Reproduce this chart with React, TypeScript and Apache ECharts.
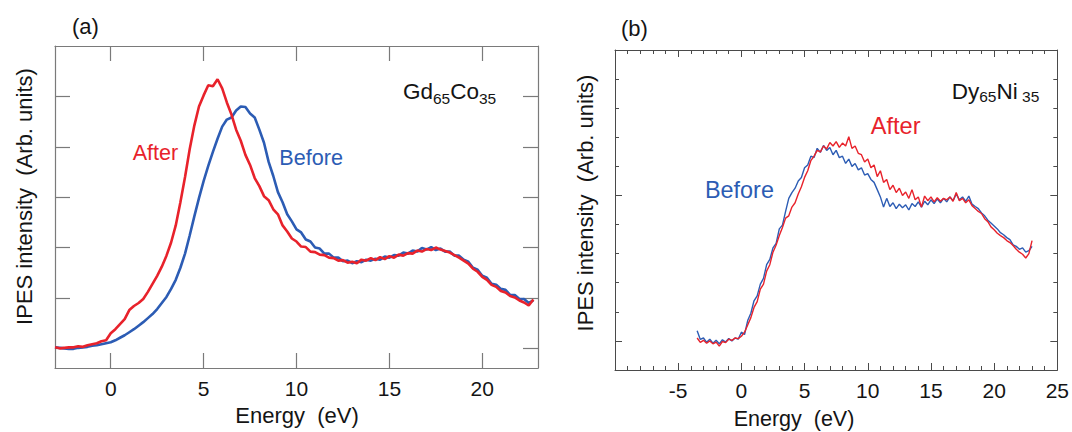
import React, { useEffect, useRef } from "react";
import * as echarts from "echarts";

// ---------- data ----------
const energyStep = 0.25;

// Panel (a) Gd65Co35, energies from -3 eV in 0.25 eV steps
const energyStartA = -3;
const afterA = [
  0.02, 0.0, 0.01, 0.02, 0.02, 0.04, 0.03, 0.06, 0.08, 0.1, 0.14, 0.16,
  0.3, 0.38, 0.48, 0.58, 0.76, 0.84, 0.9, 0.98, 1.12, 1.28, 1.44, 1.62,
  1.84, 2.1, 2.44, 2.9, 3.4, 3.95, 4.42, 4.8, 5.02, 5.22, 5.2, 5.34,
  5.16, 4.88, 4.64, 4.34, 4.12, 3.84, 3.64, 3.38, 3.22, 3.02, 2.94, 2.76,
  2.66, 2.44, 2.32, 2.18, 2.12, 2.02, 2.01, 1.92, 1.91, 1.86, 1.85, 1.8,
  1.79, 1.74, 1.75, 1.7, 1.72, 1.69, 1.76, 1.74, 1.79, 1.75, 1.81, 1.77,
  1.83, 1.8, 1.86, 1.84, 1.89, 1.88, 1.94, 1.92, 1.97, 1.95, 2.0, 1.96,
  1.93, 1.9, 1.85, 1.8, 1.74, 1.68, 1.58, 1.52, 1.42, 1.36, 1.26, 1.22,
  1.14, 1.11, 1.04, 1.01, 0.95, 0.91, 0.85, 0.97,
];
const beforeA = [
  0.02, 0.01, 0.0, -0.01, -0.01, 0.01, 0.02, 0.03, 0.05, 0.06, 0.08, 0.1,
  0.12, 0.16, 0.21, 0.26, 0.32, 0.38, 0.45, 0.52, 0.6, 0.68, 0.78, 0.9,
  1.02, 1.18, 1.36, 1.6, 1.88, 2.24, 2.62, 2.98, 3.32, 3.62, 3.9, 4.16,
  4.4, 4.54, 4.58, 4.72, 4.8, 4.79, 4.66, 4.58, 4.34, 4.08, 3.7, 3.42,
  3.1, 2.9, 2.66, 2.52, 2.36, 2.3, 2.16, 2.12, 2.0, 1.98, 1.88, 1.88,
  1.8, 1.8, 1.73, 1.74, 1.69, 1.73, 1.71, 1.76, 1.74, 1.78, 1.76, 1.82,
  1.8, 1.85, 1.84, 1.9, 1.88, 1.94, 1.92, 1.99, 1.96, 2.01, 1.95, 1.98,
  1.92, 1.92, 1.84, 1.84, 1.76, 1.72, 1.6, 1.56, 1.44, 1.4, 1.28, 1.26,
  1.18, 1.16, 1.06, 1.06, 0.98, 0.98, 0.9, 0.95,
];

// Panel (b) Dy65Ni35, energies from -3.5 eV in 0.25 eV steps
const energyStartB = -3.5;
const beforeB = [
  0.35, 0.05, 0.1, -0.05, 0.06, -0.08, 0.02, -0.1, 0.04, -0.04, 0.08, 0.0, 0.1, 0.06,
  0.3, 0.22, 0.7, 0.95, 1.38, 1.55, 1.95, 2.15, 2.62, 2.8, 3.2, 3.35, 3.85, 3.98, 4.45, 4.9,
  5.1, 5.25, 5.5, 5.62, 5.95, 6.05, 6.35, 6.3, 6.62, 6.48, 6.72, 6.55, 6.65, 6.4, 6.55, 6.3,
  6.35, 6.1, 6.25, 6.0, 6.1, 5.88, 5.95, 5.7, 5.75, 5.55, 5.45, 5.2, 4.95, 4.6, 4.9, 4.62,
  4.75, 4.55, 4.7, 4.58, 4.68, 4.5, 4.72, 4.62, 4.78, 4.6, 4.8, 4.68, 4.85, 4.72, 4.88, 4.75,
  4.9, 4.78, 4.95, 4.82, 5.05, 4.85, 4.95, 4.8, 4.98, 4.7, 4.62, 4.55, 4.4, 4.3, 4.15, 4.05,
  3.95, 3.85, 3.72, 3.65, 3.55, 3.48, 3.3, 3.25, 3.15, 3.2, 3.05, 3.1, 3.25,
];
const afterB = [
  0.1, -0.05, 0.02, -0.08, 0.0, -0.1, -0.04, -0.18, -0.02, -0.06, 0.06, 0.02, 0.1, 0.08,
  0.16, 0.3, 0.55, 0.8, 1.15, 1.35, 1.78, 1.95, 2.4, 2.62, 3.05, 3.3, 3.62, 3.9, 4.22, 4.3,
  4.6, 4.75, 5.05, 5.3, 5.62, 5.85, 6.2, 6.35, 6.55, 6.5, 6.7, 6.6, 6.82, 6.7, 6.85, 6.65,
  6.8, 6.7, 7.02, 6.62, 6.7, 6.45, 6.4, 6.15, 6.25, 5.95, 6.05, 5.65, 5.85, 5.45, 5.55, 5.2,
  5.35, 5.1, 5.25, 5.0, 5.12, 4.9, 5.2, 4.85, 4.95, 4.6, 4.98, 4.82, 4.95, 4.78, 4.92, 4.8,
  4.9, 4.85, 4.95, 4.8, 5.1, 4.82, 4.9, 4.75, 4.85, 4.65, 4.55, 4.45, 4.38, 4.2, 4.1, 3.92,
  3.82, 3.7, 3.62, 3.55, 3.45, 3.38, 3.28, 3.15, 3.05, 2.98, 2.85, 3.0, 3.45,
];

const tickValuesAX = [0, 5, 10, 15, 20];
const tickValuesAY = [0, 1, 2, 3, 4, 5];
const majorTickValuesBY = [0, 5];

// ---------- styling ----------
const FONT = "'Liberation Sans', Arial, Helvetica, sans-serif";
const RED = "#e8222b";
const BLUE = "#2c5cb4";
const TEXT = "#141414";
const FRAME_A = "#7a7a7a";
const FRAME_B = "#4a4a4a";

const toPairs = (start: number, ys: number[]) =>
  ys.map((v, i) => [start + i * energyStep, v]);

function buildOption(): any {
  const lineA = { color: FRAME_A, width: 1.2 };
  const lineB = { color: FRAME_B, width: 1 };
  const noSplit = { show: false };
  const labelFont = { fontSize: 21, color: TEXT, fontFamily: FONT };

  const xAxisA = (pos: "bottom" | "top") => ({
    gridIndex: 0,
    type: "value",
    position: pos,
    min: -3,
    max: 23,
    axisLine: { show: true, onZero: false, lineStyle: lineA },
    axisTick: { show: true, inside: true, length: 15, customValues: tickValuesAX, lineStyle: lineA },
    axisLabel:
      pos === "bottom"
        ? { show: true, customValues: tickValuesAX, margin: 10, ...labelFont }
        : { show: false },
    splitLine: noSplit,
  });
  const yAxisA = (pos: "left" | "right") => ({
    gridIndex: 0,
    type: "value",
    position: pos,
    min: -0.39,
    max: 6,
    axisLine: { show: true, onZero: false, lineStyle: lineA },
    axisTick: { show: true, inside: true, length: 15, customValues: tickValuesAY, lineStyle: lineA },
    axisLabel: { show: false },
    splitLine: noSplit,
  });
  const xAxisB = (pos: "bottom" | "top") => ({
    gridIndex: 1,
    type: "value",
    position: pos,
    min: -10,
    max: 25,
    interval: 5,
    axisLine: { show: true, onZero: false, lineStyle: lineB },
    axisTick: { show: true, inside: true, length: 7, lineStyle: lineB },
    minorTick: { show: true, splitNumber: 5, length: 4, lineStyle: lineB },
    axisLabel:
      pos === "bottom"
        ? {
            show: true,
            margin: 10,
            ...labelFont,
            formatter: (v: number) => (v === -10 ? "" : String(v)),
          }
        : { show: false },
    splitLine: noSplit,
    minorSplitLine: noSplit,
  });
  const yAxisBMinor = (pos: "left" | "right") => ({
    gridIndex: 1,
    type: "value",
    position: pos,
    min: -1,
    max: 10,
    interval: 1,
    axisLine: { show: true, onZero: false, lineStyle: lineB },
    axisTick: { show: true, inside: true, length: 4, lineStyle: lineB },
    axisLabel: { show: false },
    splitLine: noSplit,
  });
  const yAxisBMajor = (pos: "left" | "right") => ({
    gridIndex: 1,
    type: "value",
    position: pos,
    min: -1,
    max: 10,
    axisLine: { show: false, onZero: false },
    axisTick: { show: true, inside: true, length: 7, customValues: majorTickValuesBY, lineStyle: lineB },
    axisLabel: { show: false },
    splitLine: noSplit,
  });

  const txt = (text: string, x: number, y: number, size: number, fill: string, extra: any = {}) => ({
    type: "text",
    x,
    y,
    ...extra,
    style: {
      text,
      fill,
      fontSize: size,
      fontFamily: FONT,
      align: extra.align || "left",
      verticalAlign: "middle",
    },
  });

  return {
    animation: false,
    backgroundColor: "#ffffff",
    textStyle: { fontFamily: FONT },
    grid: [
      { left: 55, top: 46, width: 483, height: 322, containLabel: false },
      { left: 615, top: 50, width: 444, height: 320, containLabel: false },
    ],
    xAxis: [xAxisA("bottom"), xAxisA("top"), xAxisB("bottom"), xAxisB("top")],
    yAxis: [
      yAxisA("left"),
      yAxisA("right"),
      yAxisBMinor("left"),
      yAxisBMinor("right"),
      yAxisBMajor("left"),
      yAxisBMajor("right"),
    ],
    series: [
      {
        name: "Before",
        type: "line",
        xAxisIndex: 0,
        yAxisIndex: 0,
        data: toPairs(energyStartA, beforeA),
        showSymbol: false,
        lineStyle: { color: BLUE, width: 2.6 },
        itemStyle: { color: BLUE },
      },
      {
        name: "After",
        type: "line",
        xAxisIndex: 0,
        yAxisIndex: 0,
        data: toPairs(energyStartA, afterA),
        showSymbol: false,
        lineStyle: { color: RED, width: 2.6 },
        itemStyle: { color: RED },
      },
      {
        name: "Before",
        type: "line",
        xAxisIndex: 2,
        yAxisIndex: 2,
        data: toPairs(energyStartB, beforeB),
        showSymbol: false,
        lineStyle: { color: BLUE, width: 1.4 },
        itemStyle: { color: BLUE },
      },
      {
        name: "After",
        type: "line",
        xAxisIndex: 2,
        yAxisIndex: 2,
        data: toPairs(energyStartB, afterB),
        showSymbol: false,
        lineStyle: { color: RED, width: 1.4 },
        itemStyle: { color: RED },
      },
    ],
    graphic: [
      // panel labels
      txt("(a)", 72, 26, 22, TEXT),
      txt("(b)", 621, 28, 22, TEXT),
      // axis names
      txt("Energy  (eV)", 297, 415, 22, TEXT, { align: "center" }),
      txt("Energy  (eV)", 794, 419, 21.5, TEXT, { align: "center" }),
      txt("IPES intensity  (Arb. units)", 24, 196.5, 22, TEXT, { align: "center", rotation: Math.PI / 2 }),
      txt("IPES intensity  (Arb. units)", 585, 203, 22, TEXT, { align: "center", rotation: Math.PI / 2 }),
      // compound names
      txt("Gd", 403, 91.7, 22.5, TEXT),
      txt("65", 433, 98.6, 15.5, TEXT),
      txt("Co", 450.2, 91.7, 22.5, TEXT),
      txt("35", 479, 98.6, 15.5, TEXT),
      txt("Dy", 951.7, 91, 22.5, TEXT),
      txt("65", 979.2, 96.5, 15.5, TEXT),
      txt("Ni", 996.4, 91, 22.5, TEXT),
      txt("35", 1022.1, 96.5, 15.5, TEXT),
      // curve labels
      txt("After", 132.7, 152.5, 21.6, RED),
      txt("Before", 279.3, 157.5, 21.6, BLUE),
      txt("After", 870.7, 125.9, 23.6, RED),
      txt("Before", 705, 190.2, 23.4, BLUE),
    ],
  };
}

export default function App() {
  const ref = useRef<HTMLDivElement>(null);
  useEffect(() => {
    document.body.style.margin = "0";
    const chart = echarts.init(ref.current as HTMLDivElement, null, { renderer: "svg" });
    chart.setOption(buildOption());
    return () => {
      chart.dispose();
    };
  }, []);
  return <div ref={ref} style={{ width: 1072, height: 432, background: "#ffffff" }} />;
}
